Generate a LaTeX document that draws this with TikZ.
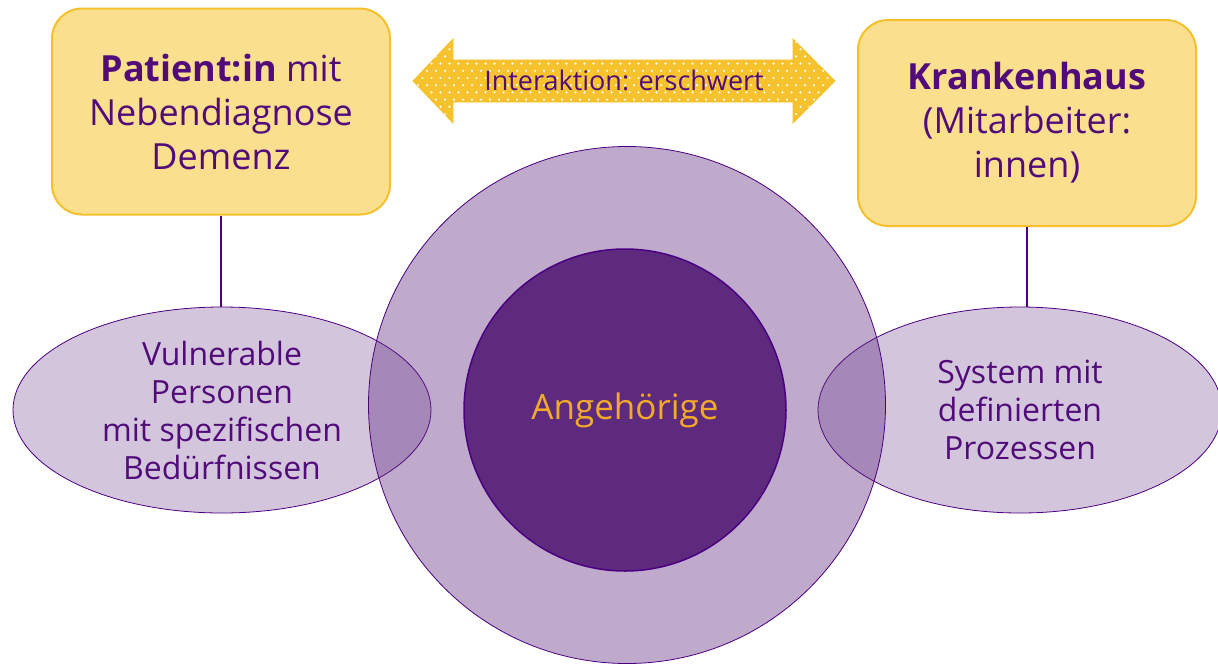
\documentclass[tikz,border=0pt]{standalone}
\usepackage{fontspec}
\setmainfont{Open Sans}
\usetikzlibrary{shapes.geometric,positioning}

\definecolor{boxfill}{RGB}{250,224,142}
\definecolor{boxline}{RGB}{245,192,44}
\definecolor{arrowfill}{RGB}{246,194,46}
\definecolor{deeppurple}{RGB}{94,42,126}
\definecolor{linepurple}{RGB}{75,0,130}
\definecolor{textpurple}{RGB}{82,12,122}
\definecolor{goldtext}{RGB}{242,170,40}

\begin{document}
\begin{tikzpicture}[x=1pt,y=-1pt,
  topbox/.style={draw=boxline, line width=2pt, fill=boxfill, rounded corners=30pt,
    minimum width=338pt, minimum height=206pt, align=center, text=textpurple,
    font=\fontsize{36}{44}\selectfont},
  oval/.style={ellipse, draw=linepurple, line width=0.8pt, fill=deeppurple,
    fill opacity=0.27, text opacity=1, minimum width=418pt, minimum height=206pt,
    inner sep=0pt, align=center, text=textpurple, font=\fontsize{32}{38}\selectfont},
  link/.style={linepurple, line width=2pt}]

\clip (0,0) rectangle (1218,665);

% Boxes
\node[topbox] (patient) at (221,111.5) {\textbf{Patient:in} mit\\Nebendiagnose\\Demenz};
\node[topbox] (hospital) at (1027,123) {\textbf{Krankenhaus}\\(Mitarbeiter:\\innen)};

% Arrow between the boxes
\draw[boxline, fill=arrowfill, line width=0.8pt] (413,81) -- (453,39) -- (453,60) -- (793,60)
  -- (793,39) -- (835,81) -- (793,123) -- (793,102) -- (453,102) -- (453,123) -- cycle;
\begin{scope}
\clip (413,81) -- (453,39) -- (453,60) -- (793,60)
  -- (793,39) -- (835,81) -- (793,123) -- (793,102) -- (453,102) -- (453,123) -- cycle;
\foreach \row in {0,...,11}
{
\foreach \col in {0,...,47}
{
\fill[white] ({418+9*\col+4.5*mod(\row,2)},{42+7.2*\row}) circle (1.2);
}
}
\end{scope}
\node[text=textpurple, font=\fontsize{27}{30}\selectfont] (interaktion) at (624,80) {Interaktion: erschwert};

% Ovals
\node[oval] (vulnerable) at (222,410) {Vulnerable\\Personen\\mit spezifischen\\Bedürfnissen};
\node[oval, minimum width=404pt] (system) at (1020,410) {System mit\\definierten\\Prozessen};

% Circles
\node[circle, draw=linepurple, line width=0.8pt, fill=deeppurple, fill opacity=0.4,
  minimum size=517pt] (outer) at (627,405) {};
\node[circle, draw=linepurple, line width=1.5pt, fill=deeppurple, minimum size=322pt,
  text=goldtext, font=\fontsize{35}{40}\selectfont] (angehoerige) at (625,410) {Angehörige};

% Links
\draw[link] (patient.south) -- (patient.south |- vulnerable.north);
\draw[link] (hospital.south) -- (hospital.south |- system.north);

\end{tikzpicture}
\end{document}
